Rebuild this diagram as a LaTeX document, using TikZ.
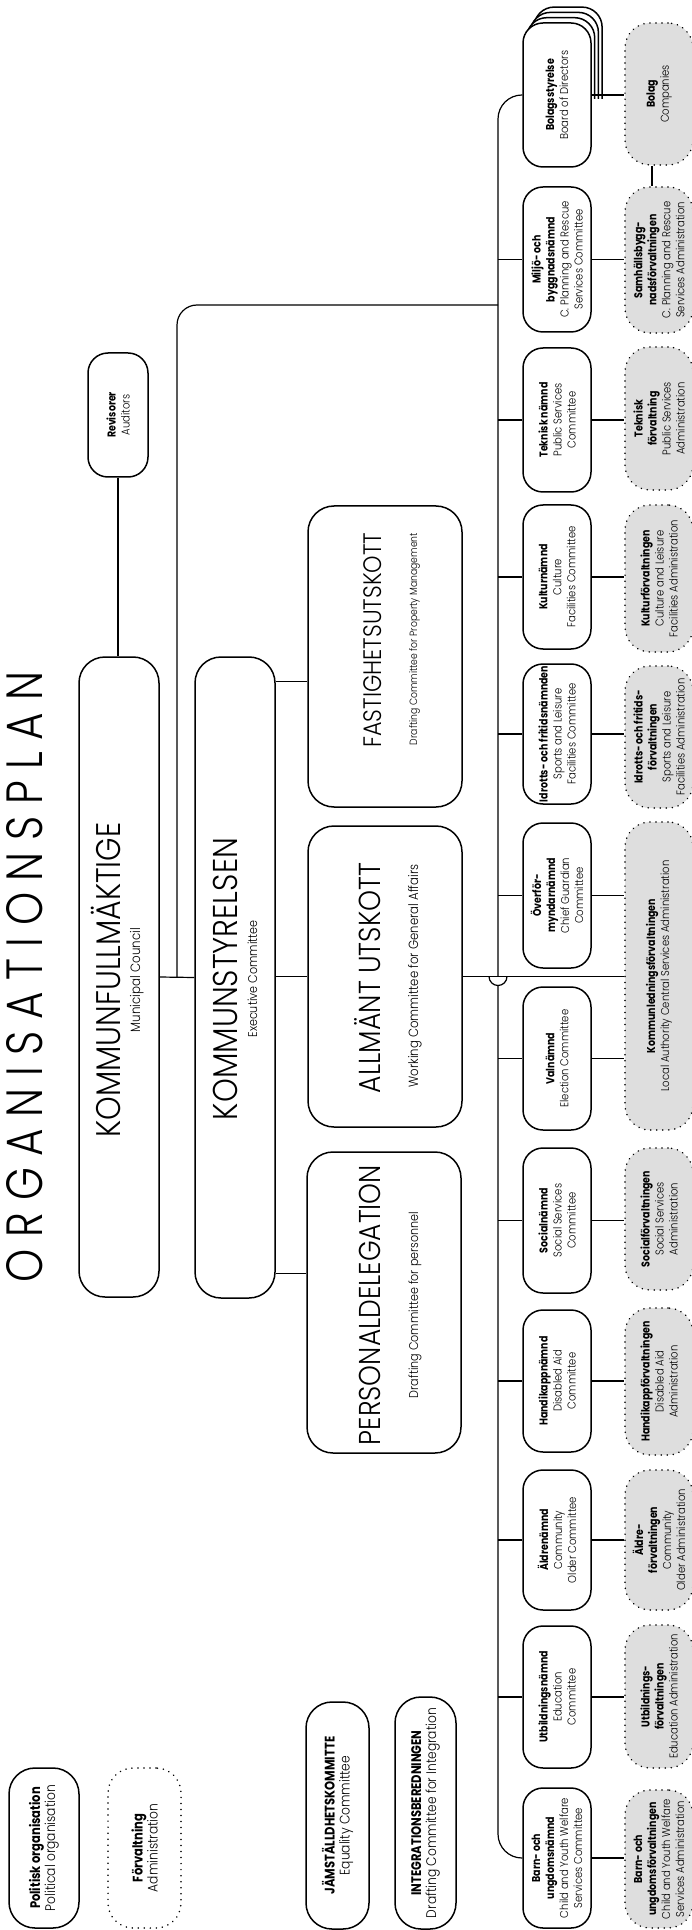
\documentclass[tikz,border=0pt]{standalone}
\usepackage{fontspec}
\usepackage{graphicx}
\def\lightname{Poppins}
\IfFontExistsTF{Poppins Light}{\IfFontExistsTF{Poppins Bold}{\def\lightname{Poppins Light}}{}}{}
\def\tmpP{Poppins}
\ifx\lightname\tmpP
  \setmainfont{Poppins}[FakeStretch=0.88]
\else
  \setmainfont{Poppins Light}[FakeStretch=0.88, BoldFont={Poppins Bold}]
\fi
\newfontfamily\titlefont{\lightname}[LetterSpace=22, FakeStretch=0.8]
\usetikzlibrary{calc}
\definecolor{admgray}{RGB}{222,222,222}
\newlength\calw
\settowidth\calw{\fontsize{10}{12}\selectfont Board of Directors}
\pgfmathsetmacro\smallsz{10*44.5/\calw}
\settowidth\calw{\fontsize{10}{12}\selectfont Political organisation}
\pgfmathsetmacro\medsz{10*63/\calw}
\newcommand\fsmall{\fontsize{\smallsz}{7}\selectfont}
\newcommand\fmed{\fontsize{\medsz}{7.5}\selectfont}
\settowidth\calw{\fsmall\bfseries Bolagsstyrelse}
\pgfmathsetmacro\bratio{36/\calw}
\newcommand\bl[1]{\scalebox{\bratio}[1]{\bfseries #1}}
\newcommand\fbig{\fontsize{14}{16}\selectfont}
\newcommand\fsub{\fontsize{7}{8}\selectfont}
\newcommand\fitw[2]{\resizebox{#1}{!}{#2}}
\tikzset{
  polbox/.style={draw, line width=0.75pt, rounded corners=10pt, fill=white, inner sep=0pt},
  bigbox/.style={polbox, rounded corners=13pt},
  admbox/.style={draw, line width=0.85pt, dash pattern=on 0.01pt off 3pt, line cap=round, rounded corners=12.5pt, fill=admgray, inner sep=0pt},
  legadm/.style={admbox, fill=white},
  conn/.style={line width=0.6pt},
  vtext/.style={rotate=90, align=center, inner sep=0pt, font=\fsmall},
  medtext/.style={font=\fmed},
  bigt/.style={rotate=90, anchor=base, inner sep=0pt, font=\fbig},
  subt/.style={rotate=90, anchor=base, inner sep=0pt, font=\fsub},
}
\newcommand\bx[6]{\node[#6, minimum width={(#4-#2)*0.5pt}, minimum height={(#5-#3)*0.5pt}] (#1) at ({(#2+#4)/2},{(#3+#5)/2}) {};}
\newcommand\bxt[8]{\bx{#1}{#2}{#3}{#4}{#5}{#6}\node[vtext,#7] (#1t) at (#1) {#8};}
\begin{document}
\begin{tikzpicture}[x=0.5pt,y=-0.5pt]
\useasboundingbox (0,0) rectangle (691,1930);
\fill[white] (0,0) rectangle (691,1930);

% title
\node[rotate=90, inner sep=0pt] (title) at (25,977) {\resizebox{305pt}{18pt}{\titlefont\fontsize{25}{26}\selectfont ORGANISATIONSPLAN}};

% council and executive
\bx{kf}{79}{657}{159}{1297}{bigbox}
\node[bigt] (kft) at (120,980) {\fitw{157.5pt}{KOMMUNFULLMÄKTIGE}};
\node[subt] (kfs) at (140,980) {\fitw{52pt}{Municipal Council}};
\bx{ks}{195}{657}{275}{1298}{bigbox}
\node[bigt] (kst) at (237,979) {\fitw{141pt}{KOMMUNSTYRELSEN}};
\node[subt] (kss) at (257,979) {\fitw{58.5pt}{Executive Committee}};

% auditors
\bxt{rev}{88}{353}{148}{477}{polbox}{}{\bl{Revisorer}\\Auditors}

% drafting committees
\bx{fs}{308}{506}{462}{807}{bigbox}
\node[bigt] (fst) at (381,640) {\fitw{107.5pt}{FASTIGHETSUTSKOTT}};
\node[subt] (fss) at (417,639) {\fitw{106pt}{Drafting Committee for Property Management}};
\bx{au}{308}{826}{462}{1127}{bigbox}
\node[bigt] (aut) at (380,978) {\fitw{115pt}{ALLMÄNT UTSKOTT}};
\node[subt] (aus) at (418,976) {\fitw{111.5pt}{Working Committee for General Affairs}};
\bx{pd}{307}{1152}{461}{1453}{bigbox}
\node[bigt] (pdt) at (380,1305) {\fitw{140pt}{PERSONALDELEGATION}};
\node[subt] (pds) at (418,1305) {\fitw{93pt}{Drafting Committee for personnel}};

% legend and side committees
\bxt{leg1}{9}{1768}{79}{1928}{bigbox}{medtext}{\bl{Politisk organisation}\\Political organisation}
\bxt{leg2}{108}{1768}{181}{1928}{legadm}{medtext}{\bl{Förvaltning}\\Administration}
\bxt{jam}{306}{1702}{369}{1929}{bigbox}{medtext}{\bl{JÄMSTÄLLDHETSKOMMITTE}\\Equality Committee}
\bxt{int}{395}{1697}{456}{1929}{bigbox}{medtext}{\bl{INTEGRATIONSBEREDNINGEN}\\Drafting Committee for Integration}

% stacked boards behind Bolagsstyrelse
\fill[white, rounded corners=10pt] (534.1,7.1) rectangle (602.1,151.1);
\draw[line width=0.75pt, rounded corners=10pt] (602.1,99) -- (602.1,7.1) -- (534.1,7.1) -- (534.1,99);
\fill[white, rounded corners=10pt] (530.4,12.4) rectangle (598.4,156.4);
\draw[line width=0.75pt, rounded corners=10pt] (598.4,99) -- (598.4,12.4) -- (530.4,12.4) -- (530.4,99);
\fill[white, rounded corners=10pt] (526.7,17.7) rectangle (594.7,161.7);
\draw[line width=0.75pt, rounded corners=10pt] (594.7,99) -- (594.7,17.7) -- (526.7,17.7) -- (526.7,99);

% committees
\bxt{c0}{523}{23}{591}{167}{polbox}{}{\bl{Bolagsstyrelse}\\Board of Directors}
\bxt{c1}{523}{187}{591}{332}{polbox}{}{\bl{Miljö- och}\\\bl{byggnadsnämnd}\\C. Planning and Rescue\\Services Committee}
\bxt{c2}{523}{348}{591}{492}{polbox}{}{\bl{Teknisk nämnd}\\Public Services\\Committee}
\bxt{c3}{523}{505}{591}{649}{polbox}{}{\bl{Kulturnämnd}\\Culture\\Facilities Committee}
\bxt{c4}{523}{664}{591}{804}{polbox}{}{\bl{Idrotts- och fritidsnämnden}\\Sports and Leisure\\Facilities Committee}
\bxt{c5}{523}{823}{591}{968}{polbox}{}{\bl{Överför-}\\\bl{myndarnämnd}\\Chief Guardian\\Committee}
\bxt{c6}{523}{987}{591}{1130}{polbox}{}{\bl{Valnämnd}\\Election Committee}
\bxt{c7}{523}{1148}{591}{1293}{polbox}{}{\bl{Socialnämnd}\\Social Services\\Committee}
\bxt{c8}{523}{1310}{591}{1452}{polbox}{}{\bl{Handikappnämnd}\\Disabled Aid\\Committee}
\bxt{c9}{523}{1470}{591}{1610}{polbox}{}{\bl{Äldrenämnd}\\Community\\Older Committee}
\bxt{c10}{523}{1626}{591}{1768}{polbox}{}{\bl{Utbildningsnämnd}\\Education\\Committee}
\bxt{c11}{523}{1788}{591}{1928}{polbox}{}{\bl{Barn- och}\\\bl{ungdomsnämnd}\\Child and Youth Welfare\\Services Committee}

% administrations
\bxt{a0}{625}{23}{693}{165}{admbox}{}{\bl{Bolag}\\Companies}
\bxt{a1}{625}{187}{693}{333}{admbox}{}{\bl{Samhällsbygg-}\\\bl{nadsförvaltningen}\\C. Planning and Rescue\\Services Administration}
\bxt{a2}{625}{347}{693}{490}{admbox}{}{\bl{Teknisk}\\\bl{förvaltning}\\Public Services\\Administration}
\bxt{a3}{625}{505}{693}{652}{admbox}{}{\bl{Kulturförvaltningen}\\Culture and Leisure\\Facilities Administration}
\bxt{a4}{625}{666}{693}{808}{admbox}{}{\bl{Idrotts- och fritids-}\\\bl{förvaltningen}\\Sports and Leisure\\Facilities Administration}
\bxt{a5}{625}{822}{693}{1130}{admbox}{}{\bl{Kommunledningsförvaltningen}\\Local Authority Central Services Administration}
\bxt{a6}{625}{1148}{693}{1290}{admbox}{}{\bl{Socialförvaltningen}\\Social Services\\Administration}
\bxt{a7}{625}{1308}{693}{1455}{admbox}{}{\bl{Handikappförvaltningen}\\Disabled Aid\\Administration}
\bxt{a8}{625}{1470}{693}{1610}{admbox}{}{\bl{Äldre-}\\\bl{förvaltningen}\\Community\\Older Administration}
\bxt{a9}{625}{1625}{693}{1768}{admbox}{}{\bl{Utbildnings-}\\\bl{förvaltningen}\\Education Administration}
\bxt{a10}{625}{1790}{693}{1928}{admbox}{}{\bl{Barn- och}\\\bl{ungdomsförvaltningen}\\Child and Youth Welfare\\Services Administration}

% connectors
\coordinate (busx) at (498,0);
\coordinate (bj) at (498,305);
\draw[conn] (rev.south) -- (rev.south |- kf.north);
\draw[conn] (kf.east) -- (ks.west);
\draw[conn, rounded corners=10pt] ($(kf.east)!0.5!(ks.west)$) |- (bj);
\coordinate (ksF) at ([yshift=-12.5pt]ks.north east);
\coordinate (ksP) at ([yshift=12.5pt]ks.south east);
\draw[conn] (ksF) -- (fs.west |- ksF);
\draw[conn] (ks.east |- au.west) -- (au.west);
\draw[conn] (ksP) -- (pd.west |- ksP);
\draw[conn] (au.east) -- (a5.west |- au.east);
\coordinate (hop) at (busx |- au.east);
\draw[conn, rounded corners=12pt] (c0.west) -| (hop);
\draw[conn] ([xshift=-4.5pt]hop) arc[start angle=180, end angle=360, radius=4.5pt];
\draw[conn, rounded corners=12pt] ([yshift=-4.5pt]hop) |- (c11.west);
\foreach \i in {1,...,10} { \draw[conn] (busx |- c\i.west) -- (c\i.west); }
\foreach \i/\a in {0/0,1/1,2/2,3/3,4/4,5/5,6/5,7/6,8/7,9/8,10/9,11/10} { \draw[conn] (c\i.east) -- (a\a.west |- c\i.east); }
\draw[conn] ([xshift=-3.5pt]a0.south) -- ([xshift=-3.5pt]a1.north);
\end{tikzpicture}
\end{document}
